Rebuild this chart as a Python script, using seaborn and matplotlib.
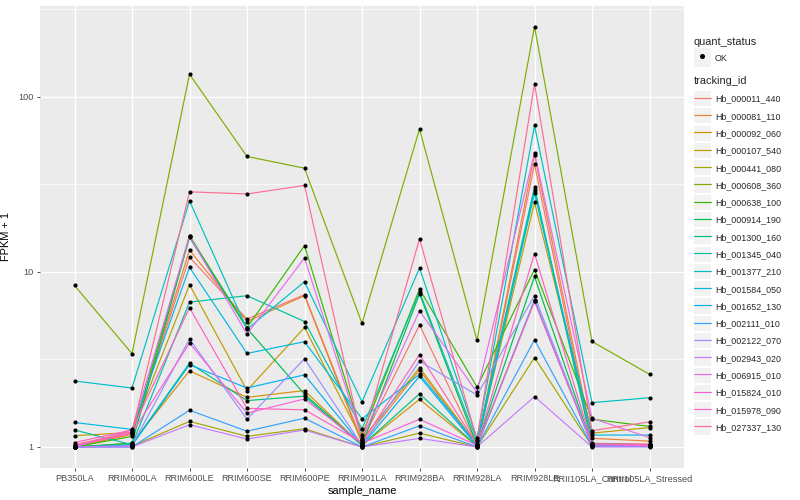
import matplotlib
matplotlib.use("Agg")
import matplotlib.pyplot as plt
from matplotlib.lines import Line2D
from matplotlib.patches import Rectangle
from matplotlib.legend_handler import HandlerLine2D
import seaborn as sns
import pandas as pd
import numpy as np

samples = ["PB350LA", "RRIM600LA", "RRIM600LE", "RRIM600SE", "RRIM600PE", "RRIM901LA",
           "RRIM928BA", "RRIM928LA", "RRIM928LE", "RRII105LA_Control", "RRII105LA_Stressed"]

tracking_ids = ["Hb_000011_440", "Hb_000081_110", "Hb_000092_060", "Hb_000107_540",
                "Hb_000441_080", "Hb_000608_360", "Hb_000638_100", "Hb_000914_190",
                "Hb_001300_160", "Hb_001345_040", "Hb_001377_210", "Hb_001584_050",
                "Hb_001652_130", "Hb_002111_010", "Hb_002122_070", "Hb_002943_020",
                "Hb_006915_010", "Hb_015824_010", "Hb_015978_090", "Hb_027337_130"]

# FPKM + 1 per sample
hb_000011_440 = [1.00, 1.20, 12.1, 5.37, 7.4, 1.08, 4.97, 1.02, 41.2, 1.05, 1.04]
hb_000081_110 = [1.00, 1.18, 13.3, 5.2, 7.3, 1.05, 2.75, 1.01, 46.5, 1.12, 1.08]
hb_000092_060 = [1.00, 1.05, 2.72, 1.92, 2.10, 1.02, 1.87, 1.01, 6.8, 1.03, 1.02]
hb_000107_540 = [1.16, 1.21, 8.43, 2.10, 4.81, 1.10, 2.84, 1.03, 24.9, 1.20, 1.29]
hb_000441_080 = [1.00, 1.01, 1.40, 1.15, 1.27, 1.00, 1.20, 1.00, 3.24, 1.01, 1.01]
hb_000608_360 = [8.35, 3.41, 134.0, 45.5, 39.0, 5.07, 65.2, 4.06, 251.0, 4.0, 2.6]
hb_000638_100 = [1.00, 1.15, 16.1, 4.8, 14.1, 1.17, 7.97, 2.2, 10.3, 1.44, 1.31]
hb_000914_190 = [1.00, 1.05, 15.7, 4.75, 2.0, 1.03, 7.49, 1.02, 9.4, 1.02, 1.03]
hb_001300_160 = [1.00, 1.03, 3.01, 1.84, 1.95, 1.02, 2.01, 1.01, 29.4, 1.02, 1.02]
hb_001345_040 = [1.25, 1.03, 6.71, 7.3, 5.2, 1.27, 7.7, 1.08, 30.4, 1.04, 1.03]
hb_001377_210 = [2.38, 2.17, 25.4, 4.7, 8.77, 1.81, 10.5, 1.12, 68.4, 1.79, 1.91]
hb_001584_050 = [1.38, 1.26, 10.6, 3.42, 3.99, 1.45, 2.6, 1.04, 28.1, 1.17, 1.17]
hb_001652_130 = [1.00, 1.02, 2.95, 2.17, 2.58, 1.02, 2.53, 1.01, 6.9, 1.02, 1.01]
hb_002111_010 = [1.00, 1.00, 1.62, 1.23, 1.46, 1.00, 1.32, 1.00, 4.09, 1.01, 1.01]
hb_002122_070 = [1.00, 1.02, 4.13, 1.44, 3.19, 1.02, 3.09, 1.98, 7.3, 1.03, 1.02]
hb_002943_020 = [1.00, 1.00, 1.34, 1.11, 1.25, 1.00, 1.12, 1.00, 1.94, 1.00, 1.00]
hb_006915_010 = [1.00, 1.25, 15.9, 4.41, 12.0, 1.12, 5.99, 2.05, 47.9, 1.46, 1.13]
hb_015824_010 = [1.02, 1.20, 3.92, 1.56, 1.88, 1.05, 1.44, 1.02, 6.77, 1.03, 1.02]
hb_015978_090 = [1.06, 1.25, 6.23, 1.66, 1.63, 1.06, 3.37, 1.03, 12.7, 1.04, 1.03]
hb_027337_130 = [1.03, 1.22, 28.6, 27.8, 31.1, 1.09, 15.4, 1.10, 118.0, 1.24, 1.39]

series = [hb_000011_440, hb_000081_110, hb_000092_060, hb_000107_540, hb_000441_080,
          hb_000608_360, hb_000638_100, hb_000914_190, hb_001300_160, hb_001345_040,
          hb_001377_210, hb_001584_050, hb_001652_130, hb_002111_010, hb_002122_070,
          hb_002943_020, hb_006915_010, hb_015824_010, hb_015978_090, hb_027337_130]

palette = ["#F8766D", "#EA8331", "#D89000", "#C09B00", "#A3A500", "#7CAE00", "#39B600",
           "#00BB4E", "#00BF7D", "#00C1A3", "#00BFC4", "#00BAE0", "#00B0F6", "#35A2FF",
           "#9590FF", "#C77CFF", "#E76BF3", "#FA62DB", "#FF62BC", "#FF6C91"]

rows = []
for tid, vals in zip(tracking_ids, series):
    for s, v in zip(samples, vals):
        rows.append({"sample_name": s, "tracking_id": tid, "fpkm1": v, "quant_status": "OK"})
df = pd.DataFrame(rows)
df["x"] = df["sample_name"].map({s: i for i, s in enumerate(samples)})

sns.set_theme(style="darkgrid")
plt.rcParams["font.family"] = ["Liberation Sans", "DejaVu Sans"]

fig = plt.figure(figsize=(8, 5), dpi=100)
ax = fig.add_axes([40 / 800, 1 - 468 / 500, (684 - 40) / 800, (468 - 5.5) / 500])
ax.set_facecolor("#EBEBEB")

sns.lineplot(data=df, x="x", y="fpkm1", hue="tracking_id", hue_order=tracking_ids,
             palette=palette, estimator=None, sort=False, legend=False, lw=0.85, ax=ax)
sns.scatterplot(data=df, x="x", y="fpkm1", color="black", s=9, linewidth=0,
                legend=False, ax=ax, zorder=3)

ax.set_yscale("log")
lmax = np.log10(df["fpkm1"].max())
ax.set_ylim(10 ** (-0.05 * lmax), 10 ** (1.05 * lmax))
ax.set_xlim(-0.6, len(samples) - 0.4)
ax.set_yticks([1, 10, 100])
ax.set_yticklabels(["1", "10", "100"])
ax.set_yticks([10 ** 0.5, 10 ** 1.5, 10 ** 2.5], minor=True)
ax.yaxis.set_minor_formatter(matplotlib.ticker.NullFormatter())
ax.set_xticks(range(len(samples)))
ax.set_xticklabels(samples)
ax.grid(True, which="major", color="white", lw=1.0)
ax.grid(True, which="minor", axis="y", color="white", lw=0.5)
ax.set_axisbelow(True)
for sp in ax.spines.values():
    sp.set_visible(False)
ax.tick_params(axis="both", which="major", length=2.5, width=0.6, color="#333333",
               labelsize=6.6, labelcolor="#4D4D4D", pad=2, bottom=True, left=True)
ax.tick_params(axis="y", which="minor", length=0)
ax.set_xlabel("sample_name", fontsize=7.9, color="black", labelpad=2)
ax.set_ylabel("FPKM + 1", fontsize=7.9, color="black", labelpad=5)


class KeyHandler(HandlerLine2D):
    def create_artists(self, legend, orig_handle, xdescent, ydescent, width, height, fontsize, trans):
        rect = Rectangle((-xdescent, -ydescent - 2.2), width, height + 4.4, facecolor="#F2F2F2",
                         edgecolor="none", transform=trans)
        arts = super().create_artists(legend, orig_handle, xdescent, ydescent, width, height, fontsize, trans)
        return [rect] + list(arts)


h1 = [Line2D([], [], ls="none", marker="o", color="black", markersize=2.6)]
leg1 = fig.legend(h1, ["OK"], title="quant_status", loc="upper left",
                  bbox_to_anchor=(691 / 800, 1 - 34 / 500), frameon=False, fontsize=6.4,
                  title_fontsize=7.9, handlelength=1.9, handleheight=1.9, handletextpad=0.5,
                  borderaxespad=0, borderpad=0.3, handler_map={Line2D: KeyHandler()})
leg1._legend_box.align = "left"

h2 = [Line2D([], [], color=c, lw=0.85) for c in palette]
leg2 = fig.legend(h2, tracking_ids, title="tracking_id", loc="upper left",
                  bbox_to_anchor=(691 / 800, 1 - 73 / 500), frameon=False, fontsize=6.4,
                  title_fontsize=7.9, handlelength=1.9, handleheight=1.2, labelspacing=0.87,
                  handletextpad=0.5, borderaxespad=0, borderpad=0.3,
                  handler_map={Line2D: KeyHandler()})
leg2._legend_box.align = "left"
leg2._legend_box.sep = 6

fig.savefig("out.png", dpi=100)
